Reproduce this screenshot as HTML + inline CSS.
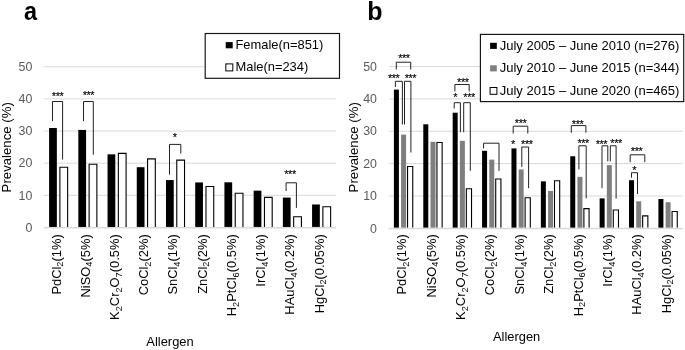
<!DOCTYPE html>
<html><head><meta charset="utf-8"><title>Figure</title>
<style>html,body{margin:0;padding:0;background:#fff}svg{display:block;font-family:'Liberation Sans', sans-serif}</style>
</head><body>
<svg width="685" height="350" viewBox="0 0 685 350">
<defs><filter id="soft" x="0" y="0" width="100%" height="100%" filterUnits="userSpaceOnUse" color-interpolation-filters="sRGB"><feGaussianBlur stdDeviation="0.35"/></filter></defs>
<rect width="685" height="350" fill="#fff"/>
<g filter="url(#soft)">
<rect width="685" height="350" fill="#fff"/>
<text transform="translate(23.9,19.6) scale(0.94,1.03)" font-size="25" font-weight="bold" fill="#000">a</text>
<text x="367.3" y="19.6" font-size="25" font-weight="bold" fill="#000">b</text>
<g shape-rendering="auto">
<line x1="43.8" x2="336.0" y1="195.31" y2="195.31" stroke="#d9d9d9" stroke-width="1"/>
<line x1="43.8" x2="336.0" y1="163.17" y2="163.17" stroke="#d9d9d9" stroke-width="1"/>
<line x1="43.8" x2="336.0" y1="131.03" y2="131.03" stroke="#d9d9d9" stroke-width="1"/>
<line x1="43.8" x2="336.0" y1="98.89" y2="98.89" stroke="#d9d9d9" stroke-width="1"/>
<line x1="43.8" x2="336.0" y1="66.75" y2="66.75" stroke="#d9d9d9" stroke-width="1"/>
<rect x="49.10" y="127.99" width="7.75" height="98.96" fill="#000"/>
<path d="M59.90 226.95V167.20H67.65V226.95" fill="#fff" stroke="#000" stroke-width="1.1"/>
<rect x="78.32" y="129.92" width="7.75" height="97.03" fill="#000"/>
<path d="M89.12 226.95V164.31H96.87V226.95" fill="#fff" stroke="#000" stroke-width="1.1"/>
<rect x="107.54" y="154.34" width="7.75" height="72.61" fill="#000"/>
<path d="M118.34 226.95V153.38H126.09V226.95" fill="#fff" stroke="#000" stroke-width="1.1"/>
<rect x="136.76" y="167.20" width="7.75" height="59.75" fill="#000"/>
<path d="M147.56 226.95V158.84H155.31V226.95" fill="#fff" stroke="#000" stroke-width="1.1"/>
<rect x="165.98" y="180.05" width="7.75" height="46.90" fill="#000"/>
<path d="M176.78 226.95V160.13H184.53V226.95" fill="#fff" stroke="#000" stroke-width="1.1"/>
<rect x="195.20" y="182.46" width="7.75" height="44.49" fill="#000"/>
<path d="M206.00 226.95V186.48H213.75V226.95" fill="#fff" stroke="#000" stroke-width="1.1"/>
<rect x="224.42" y="182.30" width="7.75" height="44.65" fill="#000"/>
<path d="M235.22 226.95V193.23H242.97V226.95" fill="#fff" stroke="#000" stroke-width="1.1"/>
<rect x="253.64" y="190.66" width="7.75" height="36.29" fill="#000"/>
<path d="M264.44 226.95V197.41H272.19V226.95" fill="#fff" stroke="#000" stroke-width="1.1"/>
<rect x="282.86" y="197.57" width="7.75" height="29.38" fill="#000"/>
<path d="M293.66 226.95V216.69H301.41V226.95" fill="#fff" stroke="#000" stroke-width="1.1"/>
<rect x="312.08" y="204.48" width="7.75" height="22.47" fill="#000"/>
<path d="M322.88 226.95V206.73H330.63V226.95" fill="#fff" stroke="#000" stroke-width="1.1"/>
<line x1="43.8" x2="336.0" y1="227.70" y2="227.70" stroke="#d9d9d9" stroke-width="1.4"/>
</g>
<text x="32.4" y="231.6" font-size="12.4" fill="#595959" text-anchor="end">0</text>
<text x="32.4" y="199.5" font-size="12.4" fill="#595959" text-anchor="end">10</text>
<text x="32.4" y="167.3" font-size="12.4" fill="#595959" text-anchor="end">20</text>
<text x="32.4" y="135.2" font-size="12.4" fill="#595959" text-anchor="end">30</text>
<text x="32.4" y="103.0" font-size="12.4" fill="#595959" text-anchor="end">40</text>
<text x="32.4" y="70.9" font-size="12.4" fill="#595959" text-anchor="end">50</text>
<text transform="translate(60.5,234.3) rotate(-90)" font-size="12.9" fill="#000" text-anchor="end"><tspan>PdCl</tspan><tspan font-size="9.2" dy="2.7">2</tspan><tspan dy="-2.7" dx="0.00">(1%)</tspan></text>
<text transform="translate(89.7,234.3) rotate(-90)" font-size="12.9" fill="#000" text-anchor="end"><tspan>NiSO</tspan><tspan font-size="9.2" dy="2.7">4</tspan><tspan dy="-2.7" dx="0.00">(5%)</tspan></text>
<text transform="translate(118.9,234.3) rotate(-90)" font-size="12.9" fill="#000" text-anchor="end"><tspan>K</tspan><tspan font-size="9.2" dy="2.7">2</tspan><tspan dy="-2.7" dx="0.00">Cr</tspan><tspan font-size="9.2" dy="2.7">2</tspan><tspan dy="-2.7" dx="0.00">O</tspan><tspan font-size="9.2" dy="2.7">7</tspan><tspan dy="-2.7" dx="0.00">(0.5%)</tspan></text>
<text transform="translate(148.2,234.3) rotate(-90)" font-size="12.9" fill="#000" text-anchor="end"><tspan>CoCl</tspan><tspan font-size="9.2" dy="2.7">2</tspan><tspan dy="-2.7" dx="0.00">(2%)</tspan></text>
<text transform="translate(177.4,234.3) rotate(-90)" font-size="12.9" fill="#000" text-anchor="end"><tspan>SnCl</tspan><tspan font-size="9.2" dy="2.7">4</tspan><tspan dy="-2.7" dx="0.00">(1%)</tspan></text>
<text transform="translate(206.6,234.3) rotate(-90)" font-size="12.9" fill="#000" text-anchor="end"><tspan>ZnCl</tspan><tspan font-size="9.2" dy="2.7">2</tspan><tspan dy="-2.7" dx="0.00">(2%)</tspan></text>
<text transform="translate(235.8,234.3) rotate(-90)" font-size="12.9" fill="#000" text-anchor="end"><tspan>H</tspan><tspan font-size="9.2" dy="2.7">2</tspan><tspan dy="-2.7" dx="0.00">PtCl</tspan><tspan font-size="9.2" dy="2.7">6</tspan><tspan dy="-2.7" dx="0.00">(0.5%)</tspan></text>
<text transform="translate(265.1,234.3) rotate(-90)" font-size="12.9" fill="#000" text-anchor="end"><tspan>IrCl</tspan><tspan font-size="9.2" dy="2.7">4</tspan><tspan dy="-2.7" dx="0.00">(1%)</tspan></text>
<text transform="translate(294.3,234.3) rotate(-90)" font-size="12.9" fill="#000" text-anchor="end"><tspan>HAuCl</tspan><tspan font-size="9.2" dy="2.7">4</tspan><tspan dy="-2.7" dx="0.00">(0.2%)</tspan></text>
<text transform="translate(323.5,234.3) rotate(-90)" font-size="12.9" fill="#000" text-anchor="end"><tspan>HgCl</tspan><tspan font-size="9.2" dy="2.7">2</tspan><tspan dy="-2.7" dx="0.00">(0.05%)</tspan></text>
<text transform="translate(10.5,147.3) rotate(-90)" font-size="13.2" fill="#000" text-anchor="middle">Prevalence (%)</text>
<text x="170.0" y="346.0" font-size="12.9" fill="#000" text-anchor="middle">Allergen</text>
<g shape-rendering="auto">
<line x1="388.8" x2="682.7" y1="195.95" y2="195.95" stroke="#d9d9d9" stroke-width="1"/>
<line x1="388.8" x2="682.7" y1="163.60" y2="163.60" stroke="#d9d9d9" stroke-width="1"/>
<line x1="388.8" x2="682.7" y1="131.25" y2="131.25" stroke="#d9d9d9" stroke-width="1"/>
<line x1="388.8" x2="682.7" y1="98.90" y2="98.90" stroke="#d9d9d9" stroke-width="1"/>
<line x1="388.8" x2="682.7" y1="66.55" y2="66.55" stroke="#d9d9d9" stroke-width="1"/>
<rect x="393.90" y="89.58" width="5.00" height="138.22" fill="#000"/>
<rect x="401.10" y="134.58" width="5.00" height="93.22" fill="#7f7f7f"/>
<path d="M407.55 227.80V166.56H412.75V227.80" fill="#fff" stroke="#000" stroke-width="1.1"/>
<rect x="423.29" y="124.29" width="5.00" height="103.51" fill="#000"/>
<rect x="430.49" y="141.81" width="5.00" height="85.99" fill="#7f7f7f"/>
<path d="M436.94 227.80V142.45H442.14V227.80" fill="#fff" stroke="#000" stroke-width="1.1"/>
<rect x="452.68" y="112.72" width="5.00" height="115.08" fill="#000"/>
<rect x="459.88" y="140.84" width="5.00" height="86.96" fill="#7f7f7f"/>
<path d="M466.33 227.80V188.73H471.53V227.80" fill="#fff" stroke="#000" stroke-width="1.1"/>
<rect x="482.07" y="150.81" width="5.00" height="76.99" fill="#000"/>
<rect x="489.27" y="159.65" width="5.00" height="68.15" fill="#7f7f7f"/>
<path d="M495.72 227.80V178.93H500.92V227.80" fill="#fff" stroke="#000" stroke-width="1.1"/>
<rect x="511.46" y="148.40" width="5.00" height="79.40" fill="#000"/>
<rect x="518.66" y="169.45" width="5.00" height="58.35" fill="#7f7f7f"/>
<path d="M525.11 227.80V197.73H530.31V227.80" fill="#fff" stroke="#000" stroke-width="1.1"/>
<rect x="540.85" y="181.34" width="5.00" height="46.46" fill="#000"/>
<rect x="548.05" y="190.98" width="5.00" height="36.82" fill="#7f7f7f"/>
<path d="M554.50 227.80V180.70H559.70V227.80" fill="#fff" stroke="#000" stroke-width="1.1"/>
<rect x="570.24" y="156.27" width="5.00" height="71.53" fill="#000"/>
<rect x="577.44" y="176.84" width="5.00" height="50.96" fill="#7f7f7f"/>
<path d="M583.89 227.80V208.66H589.09V227.80" fill="#fff" stroke="#000" stroke-width="1.1"/>
<rect x="599.63" y="198.37" width="5.00" height="29.43" fill="#000"/>
<rect x="606.83" y="165.11" width="5.00" height="62.69" fill="#7f7f7f"/>
<path d="M613.28 227.80V209.94H618.48V227.80" fill="#fff" stroke="#000" stroke-width="1.1"/>
<rect x="629.02" y="180.21" width="5.00" height="47.59" fill="#000"/>
<rect x="636.22" y="201.27" width="5.00" height="26.53" fill="#7f7f7f"/>
<path d="M642.67 227.80V215.89H647.87V227.80" fill="#fff" stroke="#000" stroke-width="1.1"/>
<rect x="658.41" y="199.02" width="5.00" height="28.78" fill="#000"/>
<rect x="665.61" y="202.23" width="5.00" height="25.57" fill="#7f7f7f"/>
<path d="M672.06 227.80V211.55H677.26V227.80" fill="#fff" stroke="#000" stroke-width="1.1"/>
<line x1="388.8" x2="682.7" y1="228.55" y2="228.55" stroke="#d9d9d9" stroke-width="1.4"/>
</g>
<text x="377.0" y="232.5" font-size="12.4" fill="#595959" text-anchor="end">0</text>
<text x="377.0" y="200.1" font-size="12.4" fill="#595959" text-anchor="end">10</text>
<text x="377.0" y="167.8" font-size="12.4" fill="#595959" text-anchor="end">20</text>
<text x="377.0" y="135.4" font-size="12.4" fill="#595959" text-anchor="end">30</text>
<text x="377.0" y="103.1" font-size="12.4" fill="#595959" text-anchor="end">40</text>
<text x="377.0" y="70.7" font-size="12.4" fill="#595959" text-anchor="end">50</text>
<text transform="translate(406.2,234.3) rotate(-90)" font-size="12.9" fill="#000" text-anchor="end"><tspan>PdCl</tspan><tspan font-size="9.2" dy="2.7">2</tspan><tspan dy="-2.7" dx="0.00">(1%)</tspan></text>
<text transform="translate(435.6,234.3) rotate(-90)" font-size="12.9" fill="#000" text-anchor="end"><tspan>NiSO</tspan><tspan font-size="9.2" dy="2.7">4</tspan><tspan dy="-2.7" dx="0.00">(5%)</tspan></text>
<text transform="translate(465.0,234.3) rotate(-90)" font-size="12.9" fill="#000" text-anchor="end"><tspan>K</tspan><tspan font-size="9.2" dy="2.7">2</tspan><tspan dy="-2.7" dx="0.00">Cr</tspan><tspan font-size="9.2" dy="2.7">2</tspan><tspan dy="-2.7" dx="0.00">O</tspan><tspan font-size="9.2" dy="2.7">7</tspan><tspan dy="-2.7" dx="0.00">(0.5%)</tspan></text>
<text transform="translate(494.4,234.3) rotate(-90)" font-size="12.9" fill="#000" text-anchor="end"><tspan>CoCl</tspan><tspan font-size="9.2" dy="2.7">2</tspan><tspan dy="-2.7" dx="0.00">(2%)</tspan></text>
<text transform="translate(523.8,234.3) rotate(-90)" font-size="12.9" fill="#000" text-anchor="end"><tspan>SnCl</tspan><tspan font-size="9.2" dy="2.7">4</tspan><tspan dy="-2.7" dx="0.00">(1%)</tspan></text>
<text transform="translate(553.1,234.3) rotate(-90)" font-size="12.9" fill="#000" text-anchor="end"><tspan>ZnCl</tspan><tspan font-size="9.2" dy="2.7">2</tspan><tspan dy="-2.7" dx="0.00">(2%)</tspan></text>
<text transform="translate(582.5,234.3) rotate(-90)" font-size="12.9" fill="#000" text-anchor="end"><tspan>H</tspan><tspan font-size="9.2" dy="2.7">2</tspan><tspan dy="-2.7" dx="0.00">PtCl</tspan><tspan font-size="9.2" dy="2.7">6</tspan><tspan dy="-2.7" dx="0.00">(0.5%)</tspan></text>
<text transform="translate(611.9,234.3) rotate(-90)" font-size="12.9" fill="#000" text-anchor="end"><tspan>IrCl</tspan><tspan font-size="9.2" dy="2.7">4</tspan><tspan dy="-2.7" dx="0.00">(1%)</tspan></text>
<text transform="translate(641.3,234.3) rotate(-90)" font-size="12.9" fill="#000" text-anchor="end"><tspan>HAuCl</tspan><tspan font-size="9.2" dy="2.7">4</tspan><tspan dy="-2.7" dx="0.00">(0.2%)</tspan></text>
<text transform="translate(670.7,234.3) rotate(-90)" font-size="12.9" fill="#000" text-anchor="end"><tspan>HgCl</tspan><tspan font-size="9.2" dy="2.7">2</tspan><tspan dy="-2.7" dx="0.00">(0.05%)</tspan></text>
<text transform="translate(358.4,147.3) rotate(-90)" font-size="13.2" fill="#000" text-anchor="middle">Prevalence (%)</text>
<text x="516.6" y="340.7" font-size="12.9" fill="#000" text-anchor="middle">Allergen</text>
<polyline points="52.5,121.1 52.5,101.5 62.6,101.5 62.6,159.5" fill="none" stroke="#222" stroke-width="1"/>
<text x="57.6" y="100.0" font-size="11.0" fill="#000" stroke="#000" stroke-width="0.15" letter-spacing="-0.45" text-anchor="middle">***</text>
<polyline points="83.5,121.1 83.5,101.5 93.3,101.5 93.3,154.8" fill="none" stroke="#222" stroke-width="1"/>
<text x="88.4" y="99.0" font-size="11.0" fill="#000" stroke="#000" stroke-width="0.15" letter-spacing="-0.45" text-anchor="middle">***</text>
<polyline points="169.5,174.6 169.5,144.4 180.8,144.4 180.8,153.5" fill="none" stroke="#222" stroke-width="1"/>
<text x="174.7" y="141.0" font-size="11.0" fill="#000" stroke="#000" stroke-width="0.15" letter-spacing="-0.45" text-anchor="middle">*</text>
<polyline points="286.1,191.0 286.1,182.8 296.4,182.8 296.4,207.9" fill="none" stroke="#222" stroke-width="1"/>
<text x="290.0" y="178.0" font-size="11.0" fill="#000" stroke="#000" stroke-width="0.15" letter-spacing="-0.45" text-anchor="middle">***</text>
<polyline points="396.3,69.5 396.3,62.2 410.7,62.2 410.7,69.5" fill="none" stroke="#222" stroke-width="1"/>
<text x="403.9" y="62.0" font-size="11.0" fill="#000" stroke="#000" stroke-width="0.15" letter-spacing="-0.45" text-anchor="middle">***</text>
<polyline points="395.4,87.0 395.4,81.3 402.4,81.3 402.4,124.5" fill="none" stroke="#222" stroke-width="1"/>
<text x="393.7" y="82.0" font-size="11.0" fill="#000" stroke="#000" stroke-width="0.15" letter-spacing="-0.45" text-anchor="middle">***</text>
<polyline points="404.5,124.5 404.5,81.3 410.9,81.3 410.9,152.5" fill="none" stroke="#222" stroke-width="1"/>
<text x="410.4" y="82.0" font-size="11.0" fill="#000" stroke="#000" stroke-width="0.15" letter-spacing="-0.45" text-anchor="middle">***</text>
<polyline points="454.9,91.5 454.9,84.5 469.2,84.5 469.2,91.5" fill="none" stroke="#222" stroke-width="1"/>
<text x="462.8" y="86.0" font-size="11.0" fill="#000" stroke="#000" stroke-width="0.15" letter-spacing="-0.45" text-anchor="middle">***</text>
<polyline points="454.2,108.5 454.2,102.7 460.4,102.7 460.4,132.3" fill="none" stroke="#222" stroke-width="1"/>
<text x="455.1" y="101.0" font-size="11.0" fill="#000" stroke="#000" stroke-width="0.15" letter-spacing="-0.45" text-anchor="middle">*</text>
<polyline points="463.7,132.3 463.7,102.7 470.3,102.7 470.3,170.9" fill="none" stroke="#222" stroke-width="1"/>
<text x="469.1" y="101.0" font-size="11.0" fill="#000" stroke="#000" stroke-width="0.15" letter-spacing="-0.45" text-anchor="middle">***</text>
<polyline points="483.6,148.5 483.6,143.2 499.0,143.2 499.0,170.9" fill="none" stroke="#222" stroke-width="1"/>
<polyline points="513.2,133.5 513.2,126.2 527.8,126.2 527.8,133.5" fill="none" stroke="#222" stroke-width="1"/>
<text x="520.6" y="127.0" font-size="11.0" fill="#000" stroke="#000" stroke-width="0.15" letter-spacing="-0.45" text-anchor="middle">***</text>
<text x="513.0" y="148.0" font-size="11.0" fill="#000" stroke="#000" stroke-width="0.15" letter-spacing="-0.45" text-anchor="middle">*</text>
<polyline points="521.8,166.9 521.8,147.0 528.6,147.0 528.6,188.2" fill="none" stroke="#222" stroke-width="1"/>
<text x="526.8" y="148.0" font-size="11.0" fill="#000" stroke="#000" stroke-width="0.15" letter-spacing="-0.45" text-anchor="middle">***</text>
<polyline points="571.3,132.7 571.3,125.6 585.9,125.6 585.9,132.7" fill="none" stroke="#222" stroke-width="1"/>
<text x="577.6" y="128.0" font-size="11.0" fill="#000" stroke="#000" stroke-width="0.15" letter-spacing="-0.45" text-anchor="middle">***</text>
<polyline points="578.9,169.5 578.9,145.8 586.2,145.8 586.2,198.3" fill="none" stroke="#222" stroke-width="1"/>
<text x="583.2" y="147.0" font-size="11.0" fill="#000" stroke="#000" stroke-width="0.15" letter-spacing="-0.45" text-anchor="middle">***</text>
<polyline points="602.0,188.2 602.0,145.8 607.8,145.8 607.8,161.4" fill="none" stroke="#222" stroke-width="1"/>
<text x="601.4" y="148.0" font-size="11.0" fill="#000" stroke="#000" stroke-width="0.15" letter-spacing="-0.45" text-anchor="middle">***</text>
<polyline points="610.3,161.4 610.3,145.8 616.1,145.8 616.1,198.6" fill="none" stroke="#222" stroke-width="1"/>
<text x="616.1" y="147.0" font-size="11.0" fill="#000" stroke="#000" stroke-width="0.15" letter-spacing="-0.45" text-anchor="middle">***</text>
<polyline points="630.2,162.1 630.2,154.8 644.8,154.8 644.8,162.1" fill="none" stroke="#222" stroke-width="1"/>
<text x="636.6" y="155.0" font-size="11.0" fill="#000" stroke="#000" stroke-width="0.15" letter-spacing="-0.45" text-anchor="middle">***</text>
<polyline points="631.5,177.7 631.5,172.7 637.5,172.7 637.5,194.0" fill="none" stroke="#222" stroke-width="1"/>
<text x="634.2" y="174.0" font-size="11.0" fill="#000" stroke="#000" stroke-width="0.15" letter-spacing="-0.45" text-anchor="middle">*</text>
<rect x="205.2" y="33.5" width="134.3" height="44.8" fill="#fff" stroke="#111" stroke-width="1.15"/>
<rect x="225.7" y="42.1" width="7" height="6.2" fill="#000"/>
<rect x="225.8" y="63.9" width="7" height="7" fill="#fff" stroke="#000" stroke-width="1"/>
<text x="235.5" y="48.7" font-size="12.9" fill="#000">Female(n=851)</text>
<text x="235.5" y="71.4" font-size="12.9" fill="#000">Male(n=234)</text>
<rect x="480.4" y="34.4" width="203.3" height="67.2" fill="#fff" stroke="#111" stroke-width="1.15"/>
<rect x="490.1" y="42.8" width="6.7" height="6.1" fill="#000"/>
<rect x="490.1" y="65.3" width="6.7" height="6.1" fill="#7f7f7f"/>
<rect x="490.1" y="87.5" width="6.8" height="6.8" fill="#fff" stroke="#000" stroke-width="1"/>
<text x="499.7" y="49.7" font-size="13" fill="#000">July 2005 – June 2010 (n=276)</text>
<text x="499.7" y="72.2" font-size="13" fill="#000">July 2010 – June 2015 (n=344)</text>
<text x="499.7" y="94.7" font-size="13" fill="#000">July 2015 – June 2020 (n=465)</text>
</g>
</svg>
</body></html>
